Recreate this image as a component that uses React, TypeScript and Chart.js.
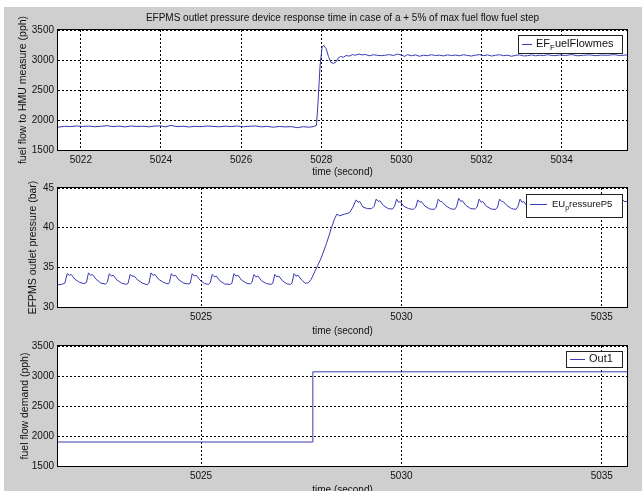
import React, { useEffect, useRef } from 'react';
import { Chart, registerables } from 'chart.js';

Chart.register(...registerables);

const W = 642;
const H = 491;
const X_MIN = 5021.43;
const X_MAX = 5035.63;

const titleText = 'EFPMS outlet pressure device response time in case of a + 5% of max fuel flow fuel step';
const xAxisLabel = 'time (second)';

// measured fuel flow (pph): [time, value]
const flowSamples: [number, number][] = [
  [5021.43, 1880], [5021.6, 1895], [5021.75, 1890], [5021.9, 1900], [5022.05, 1893], [5022.2, 1898],
  [5022.35, 1888], [5022.5, 1895], [5022.65, 1905], [5022.8, 1890], [5022.95, 1898], [5023.1, 1885],
  [5023.25, 1900], [5023.4, 1892], [5023.55, 1896], [5023.7, 1886], [5023.85, 1899], [5024.0, 1902],
  [5024.1, 1885], [5024.25, 1910], [5024.4, 1890], [5024.55, 1896], [5024.7, 1884], [5024.85, 1895],
  [5025.0, 1889], [5025.15, 1900], [5025.3, 1893], [5025.45, 1887], [5025.6, 1897], [5025.75, 1890],
  [5025.9, 1900], [5026.05, 1888], [5026.2, 1895], [5026.35, 1902], [5026.5, 1886], [5026.65, 1893],
  [5026.8, 1880], [5026.95, 1892], [5027.1, 1885], [5027.25, 1890], [5027.4, 1872], [5027.55, 1888],
  [5027.7, 1880], [5027.82, 1892], [5027.88, 1910], [5027.92, 2300], [5027.97, 2900], [5028.02, 3210],
  [5028.06, 3245], [5028.12, 3190], [5028.18, 3060], [5028.24, 2960], [5028.3, 2945], [5028.36, 2960],
  [5028.42, 3030], [5028.48, 3060], [5028.55, 3045], [5028.62, 3075], [5028.7, 3065], [5028.78, 3090],
  [5028.86, 3080], [5028.94, 3100], [5029.02, 3085], [5029.1, 3092], [5029.2, 3070], [5029.3, 3088],
  [5029.4, 3078], [5029.5, 3072], [5029.6, 3080], [5029.7, 3090], [5029.8, 3075], [5029.9, 3098],
  [5030.0, 3082], [5030.08, 3060], [5030.15, 3090], [5030.25, 3070], [5030.35, 3085], [5030.45, 3062],
  [5030.55, 3080], [5030.65, 3072], [5030.75, 3088], [5030.85, 3075], [5030.95, 3080], [5031.05, 3068],
  [5031.15, 3085], [5031.25, 3074], [5031.35, 3082], [5031.45, 3070], [5031.55, 3088], [5031.65, 3076],
  [5031.75, 3066], [5031.85, 3080], [5031.95, 3090], [5032.05, 3072], [5032.15, 3085], [5032.25, 3066],
  [5032.35, 3079], [5032.45, 3088], [5032.55, 3072], [5032.65, 3080], [5032.75, 3062], [5032.85, 3078],
  [5032.95, 3085], [5033.05, 3068], [5033.15, 3072], [5033.25, 3085], [5033.35, 3070], [5033.45, 3080],
  [5033.55, 3074], [5033.65, 3088], [5033.8, 3072], [5033.95, 3082], [5034.1, 3076], [5034.25, 3090],
  [5034.4, 3070], [5034.55, 3080], [5034.7, 3085], [5034.85, 3072], [5035.0, 3082], [5035.15, 3078],
  [5035.3, 3090], [5035.45, 3075], [5035.63, 3085],
];

// EFPMS outlet pressure (bar): [time, value]
const pressureSamples: [number, number][] = [
  [5021.43, 32.8], [5021.52, 32.85],
  [5021.6, 33.0], [5021.66, 34.2], [5021.71, 34.0], [5021.76, 34.1], [5021.85, 33.5], [5021.97, 33.1], [5022.08, 32.95],
  [5022.14, 33.1], [5022.19, 34.3], [5022.24, 34.0], [5022.29, 34.1], [5022.38, 33.5], [5022.5, 33.0], [5022.62, 32.9],
  [5022.66, 33.1], [5022.71, 34.2], [5022.76, 33.9], [5022.81, 34.0], [5022.9, 33.4], [5023.02, 33.0], [5023.14, 32.85],
  [5023.18, 33.0], [5023.23, 34.1], [5023.28, 33.9], [5023.33, 33.9], [5023.42, 33.4], [5023.54, 33.0], [5023.66, 32.8],
  [5023.7, 33.0], [5023.75, 34.3], [5023.8, 34.0], [5023.85, 34.1], [5023.94, 33.5], [5024.06, 33.1], [5024.18, 32.9],
  [5024.21, 33.1], [5024.26, 34.2], [5024.31, 33.9], [5024.36, 34.0], [5024.45, 33.4], [5024.57, 33.0], [5024.69, 32.9],
  [5024.73, 33.0], [5024.78, 34.2], [5024.83, 33.9], [5024.88, 34.0], [5024.97, 33.4], [5025.09, 32.95], [5025.19, 32.85],
  [5025.23, 33.1], [5025.28, 34.1], [5025.33, 33.8], [5025.38, 33.9], [5025.47, 33.3], [5025.59, 32.9], [5025.73, 32.85],
  [5025.77, 33.0], [5025.82, 34.2], [5025.87, 33.9], [5025.92, 34.0], [5026.01, 33.4], [5026.13, 33.0], [5026.23, 32.9],
  [5026.27, 33.1], [5026.32, 34.1], [5026.37, 33.8], [5026.42, 33.9], [5026.51, 33.3], [5026.63, 32.95], [5026.75, 32.85],
  [5026.79, 33.0], [5026.84, 34.1], [5026.89, 33.8], [5026.94, 33.9], [5027.03, 33.3], [5027.15, 32.9], [5027.23, 32.85],
  [5027.27, 33.0], [5027.32, 34.2], [5027.37, 33.9], [5027.42, 34.0], [5027.51, 33.4], [5027.6, 33.0], [5027.68, 33.05],
  [5027.75, 33.5], [5027.88, 34.9], [5028.0, 36.2], [5028.13, 38.0], [5028.25, 39.9], [5028.33, 41.1], [5028.39, 41.7],
  [5028.46, 41.5], [5028.58, 41.7], [5028.71, 41.9], [5028.79, 42.6], [5028.87, 43.5], [5028.92, 43.2], [5028.96, 43.3],
  [5029.04, 42.6], [5029.15, 42.4], [5029.26, 42.4],
  [5029.32, 42.7], [5029.37, 43.6], [5029.42, 43.3], [5029.46, 43.4], [5029.55, 42.8], [5029.67, 42.4], [5029.78, 42.35],
  [5029.83, 42.7], [5029.88, 43.6], [5029.93, 43.2], [5029.97, 43.3], [5030.06, 42.7], [5030.18, 42.4], [5030.3, 42.3],
  [5030.36, 42.6], [5030.41, 43.5], [5030.46, 43.2], [5030.5, 43.3], [5030.59, 42.7], [5030.71, 42.35], [5030.82, 42.3],
  [5030.87, 42.6], [5030.92, 43.6], [5030.97, 43.3], [5031.01, 43.3], [5031.1, 42.8], [5031.22, 42.4], [5031.33, 42.3],
  [5031.38, 42.7], [5031.43, 43.7], [5031.48, 43.3], [5031.52, 43.4], [5031.61, 42.8], [5031.73, 42.4], [5031.84, 42.35],
  [5031.89, 42.6], [5031.94, 43.6], [5031.99, 43.2], [5032.03, 43.3], [5032.12, 42.7], [5032.24, 42.35], [5032.35, 42.3],
  [5032.4, 42.6], [5032.45, 43.6], [5032.5, 43.3], [5032.54, 43.3], [5032.63, 42.8], [5032.75, 42.4], [5032.86, 42.3],
  [5032.91, 42.7], [5032.96, 43.6], [5033.01, 43.2], [5033.05, 43.3], [5033.14, 42.7], [5033.26, 42.35], [5033.37, 42.3],
  [5033.42, 42.6], [5033.47, 43.6], [5033.52, 43.3], [5033.56, 43.3], [5033.65, 42.8], [5033.77, 42.4], [5033.88, 42.3],
  [5033.93, 42.7], [5033.98, 43.6], [5034.03, 43.2], [5034.07, 43.3], [5034.16, 42.7], [5034.28, 42.35], [5034.39, 42.3],
  [5034.44, 42.6], [5034.49, 43.5], [5034.54, 43.2], [5034.58, 43.3], [5034.67, 42.7], [5034.79, 42.4], [5034.9, 42.3],
  [5034.95, 42.7], [5035.0, 43.6], [5035.05, 43.3], [5035.09, 43.3], [5035.18, 42.8], [5035.3, 42.4], [5035.41, 42.35],
  [5035.46, 42.7], [5035.51, 43.6], [5035.56, 43.3], [5035.63, 43.3],
];

// fuel flow demand (pph): [time, value]
const demandSamples: [number, number][] = [
  [5021.43, 1900], [5027.79, 1900], [5027.79, 3070], [5035.63, 3070],
];

const LINE_COLOR = '#3a3ab4';
const FONT = '"Liberation Sans", Arial, sans-serif';

type Part = { t: string; sub?: boolean };

interface Panel {
  samples: [number, number][];
  top: number;
  bottom: number;
  yMin: number;
  yMax: number;
  yStep: number;
  xStep: number;
  yLabel: string;
  yLabelX: number;
  xLabelY: number;
  legend: Part[];
  legendSize: number;
  box: { x: number; y: number; w: number; h: number };
  sample: { x1: number; x2: number; y: number };
  textX: number;
  title?: string;
}

const panels: Panel[] = [
  {
    samples: flowSamples, top: 30, bottom: 150, yMin: 1500, yMax: 3500, yStep: 500, xStep: 2,
    yLabel: 'fuel flow to HMU measure (pph)', yLabelX: 23.5, xLabelY: 172.5,
    legend: [{ t: 'EF' }, { t: 'F', sub: true }, { t: 'uelFlowmes' }], legendSize: 11,
    box: { x: 518, y: 35, w: 104, h: 18 }, sample: { x1: 522, x2: 532, y: 44 }, textX: 536,
    title: titleText,
  },
  {
    samples: pressureSamples, top: 188, bottom: 307, yMin: 30, yMax: 45, yStep: 5, xStep: 5,
    yLabel: 'EFPMS outlet pressure (bar)', yLabelX: 33.5, xLabelY: 331.5,
    legend: [{ t: 'EU' }, { t: 'p', sub: true }, { t: 'ressureP5' }], legendSize: 9.5,
    box: { x: 526, y: 194, w: 96, h: 23 }, sample: { x1: 530, x2: 547, y: 204 }, textX: 552,
  },
  {
    samples: demandSamples, top: 346, bottom: 466, yMin: 1500, yMax: 3500, yStep: 500, xStep: 5,
    yLabel: 'fuel flow demand (pph)', yLabelX: 25, xLabelY: 490,
    legend: [{ t: 'Out1' }], legendSize: 11,
    box: { x: 566, y: 351, w: 56, h: 16 }, sample: { x1: 570, x2: 585, y: 359 }, textX: 589,
  },
];

function makeDecor(p: Panel) {
  return {
    id: 'decor',
    beforeDraw(chart: any) {
      const { ctx, chartArea: a } = chart;
      ctx.save();
      ctx.fillStyle = '#ffffff';
      ctx.fillRect(a.left, a.top, a.right - a.left, a.bottom - a.top);
      ctx.restore();
    },
    afterDraw(chart: any) {
      const { ctx, chartArea: a } = chart;
      ctx.save();
      ctx.strokeStyle = '#000';
      ctx.lineWidth = 1;
      ctx.setLineDash([]);
      ctx.strokeRect(Math.round(a.left) - 0.5, Math.round(a.top) - 0.5, Math.round(a.right - a.left) + 1, Math.round(a.bottom - a.top) + 1);

      // legend
      const b = p.box;
      ctx.fillStyle = '#fff';
      ctx.fillRect(b.x, b.y, b.w, b.h);
      ctx.strokeStyle = '#222';
      ctx.strokeRect(b.x + 0.5, b.y + 0.5, b.w, b.h);
      ctx.strokeStyle = LINE_COLOR;
      ctx.beginPath();
      ctx.moveTo(p.sample.x1, p.sample.y + 0.5);
      ctx.lineTo(p.sample.x2, p.sample.y + 0.5);
      ctx.stroke();
      ctx.fillStyle = '#111';
      ctx.textBaseline = 'middle';
      ctx.textAlign = 'left';
      let x = p.textX;
      for (const part of p.legend) {
        if (part.sub) {
          ctx.font = `${p.legendSize * 0.72}px ${FONT}`;
          ctx.fillText(part.t, x, p.sample.y + 4);
        } else {
          ctx.font = `${p.legendSize}px ${FONT}`;
          ctx.fillText(part.t, x, p.sample.y);
        }
        x += ctx.measureText(part.t).width;
      }

      // axis titles
      ctx.fillStyle = '#111';
      ctx.font = `10px ${FONT}`;
      ctx.textAlign = 'center';
      ctx.textBaseline = 'middle';
      const cx = (a.left + a.right) / 2;
      ctx.fillText(xAxisLabel, cx, p.xLabelY);
      ctx.save();
      ctx.translate(p.yLabelX, (a.top + a.bottom) / 2);
      ctx.rotate(-Math.PI / 2);
      ctx.font = `10.5px ${FONT}`;
      ctx.fillText(p.yLabel, 0, 0);
      ctx.restore();

      if (p.title) {
        ctx.font = `10px ${FONT}`;
        ctx.fillText(p.title, cx, 18);
      }
      ctx.restore();
    },
  };
}

function PanelChart({ p }: { p: Panel }) {
  const ref = useRef<HTMLCanvasElement | null>(null);
  useEffect(() => {
    if (!ref.current) return;
    const chart = new Chart(ref.current, {
      type: 'line',
      data: {
        datasets: [
          {
            data: p.samples.map(([x, y]) => ({ x, y })),
            borderColor: LINE_COLOR,
            borderWidth: 1,
            pointRadius: 0,
            tension: 0,
            fill: false,
          },
        ],
      },
      options: {
        animation: false,
        responsive: false,
        devicePixelRatio: 1,
        events: [],
        layout: { padding: { left: 0, right: 15, top: p.top, bottom: H - p.bottom - 30 } },
        plugins: { legend: { display: false }, tooltip: { enabled: false }, title: { display: false } },
        scales: {
          x: {
            type: 'linear',
            min: X_MIN,
            max: X_MAX,
            afterFit: (s: any) => { s.height = 30; },
            grid: { color: '#000', lineWidth: 1, drawTicks: false },
            border: { display: false, dash: [2, 2] },
            ticks: {
              stepSize: p.xStep,
              includeBounds: false,
              autoSkip: false,
              maxRotation: 0,
              padding: 4,
              color: '#111',
              font: { family: FONT, size: 10 },
              callback: (v: any) => String(v),
            },
          },
          y: {
            type: 'linear',
            min: p.yMin,
            max: p.yMax,
            afterFit: (s: any) => { s.width = 58; },
            grid: { color: '#000', lineWidth: 1, drawTicks: false },
            border: { display: false, dash: [2, 2] },
            ticks: {
              stepSize: p.yStep,
              includeBounds: false,
              autoSkip: false,
              padding: 4,
              color: '#111',
              font: { family: FONT, size: 10 },
              callback: (v: any) => String(v),
            },
          },
        },
      },
      plugins: [makeDecor(p)],
    } as any);
    return () => chart.destroy();
  }, [p]);
  return (
    <canvas
      ref={ref}
      width={W}
      height={H}
      style={{ position: 'absolute', left: 0, top: 0, width: W, height: H }}
    />
  );
}

export default function App() {
  return (
    <div style={{ position: 'absolute', left: 0, top: 0, width: W, height: H, background: '#ffffff', overflow: 'hidden' }}>
      <div style={{ position: 'absolute', left: 4, top: 7, width: W - 4, height: H - 7, background: '#cfcfcf' }} />
      {panels.map((p, i) => (
        <PanelChart key={i} p={p} />
      ))}
    </div>
  );
}
